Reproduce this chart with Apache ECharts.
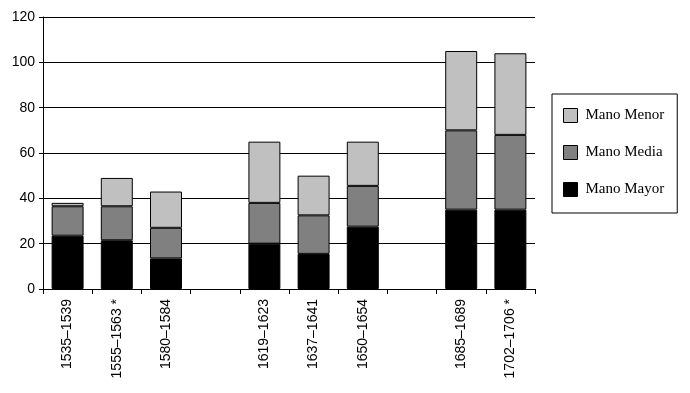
<!DOCTYPE html>
<html>
<head>
<meta charset="utf-8">
<script src="https://cdn.jsdelivr.net/npm/echarts@6/dist/echarts.min.js"></script>
<style>
html,body{margin:0;padding:0;background:#fff;}
#c{width:690px;height:393px;}
</style>
</head>
<body>
<div id="c"></div>
<script>
var categories = ['1535–1539', '1555–1563 *', '1580–1584', '', '1619–1623', '1637–1641', '1650–1654', ' ', '1685–1689', '1702–1706 *'];
var manoMayor = [23.5, 21.5, 13.5, null, 20, 15.5, 27.5, null, 35, 35];
var manoMedia = [13, 15, 13.5, null, 18, 17, 18, null, 35, 33];
var manoMenor = [1.5, 12.5, 16, null, 27, 17.5, 19.5, null, 35, 36];
var yTicks = [0, 20, 40, 60, 80, 100, 120];

var chart = echarts.init(document.getElementById('c'), null, {renderer: 'canvas'});
var barStyle = function (c) { return {color: c, borderColor: '#000', borderWidth: 1}; };
chart.setOption({
  animation: false,
  backgroundColor: '#fff',
  grid: {left: 43, right: 155, top: 17, bottom: 104},
  legend: {
    orient: 'vertical',
    left: 552, top: 94,
    padding: [14, 13, 16, 11],
    itemGap: 22,
    itemWidth: 14, itemHeight: 14,
    icon: 'rect',
    borderColor: '#000', borderWidth: 1,
    backgroundColor: '#fff',
    data: ['Mano Menor', 'Mano Media', 'Mano Mayor'],
    itemStyle: {borderColor: '#000', borderWidth: 1},
    textStyle: {fontFamily: 'Liberation Serif', fontSize: 15, color: '#000', padding: [0, 0, 0, 3]}
  },
  xAxis: {
    type: 'category',
    data: categories,
    axisLine: {lineStyle: {color: '#000', width: 1}},
    axisTick: {show: true, alignWithLabel: false, length: 5, lineStyle: {color: '#000'}},
    axisLabel: {rotate: 90, margin: 10, interval: 0, fontFamily: 'Liberation Sans', fontSize: 14, color: '#000'}
  },
  yAxis: {
    type: 'value',
    min: yTicks[0], max: yTicks[yTicks.length - 1], interval: 20,
    axisLine: {show: true, lineStyle: {color: '#000', width: 1}},
    axisTick: {show: true, length: 4, lineStyle: {color: '#000'}},
    axisLabel: {margin: 8, fontFamily: 'Liberation Sans', fontSize: 14, color: '#000'},
    splitLine: {show: true, lineStyle: {color: '#000', width: 1}}
  },
  series: [
    {name: 'Mano Mayor', type: 'bar', stack: 't', barWidth: '65%', data: manoMayor, itemStyle: barStyle('#000000')},
    {name: 'Mano Media', type: 'bar', stack: 't', barWidth: '65%', data: manoMedia, itemStyle: barStyle('#808080')},
    {name: 'Mano Menor', type: 'bar', stack: 't', barWidth: '65%', data: manoMenor, itemStyle: barStyle('#c0c0c0')}
  ]
});
</script>
</body>
</html>
